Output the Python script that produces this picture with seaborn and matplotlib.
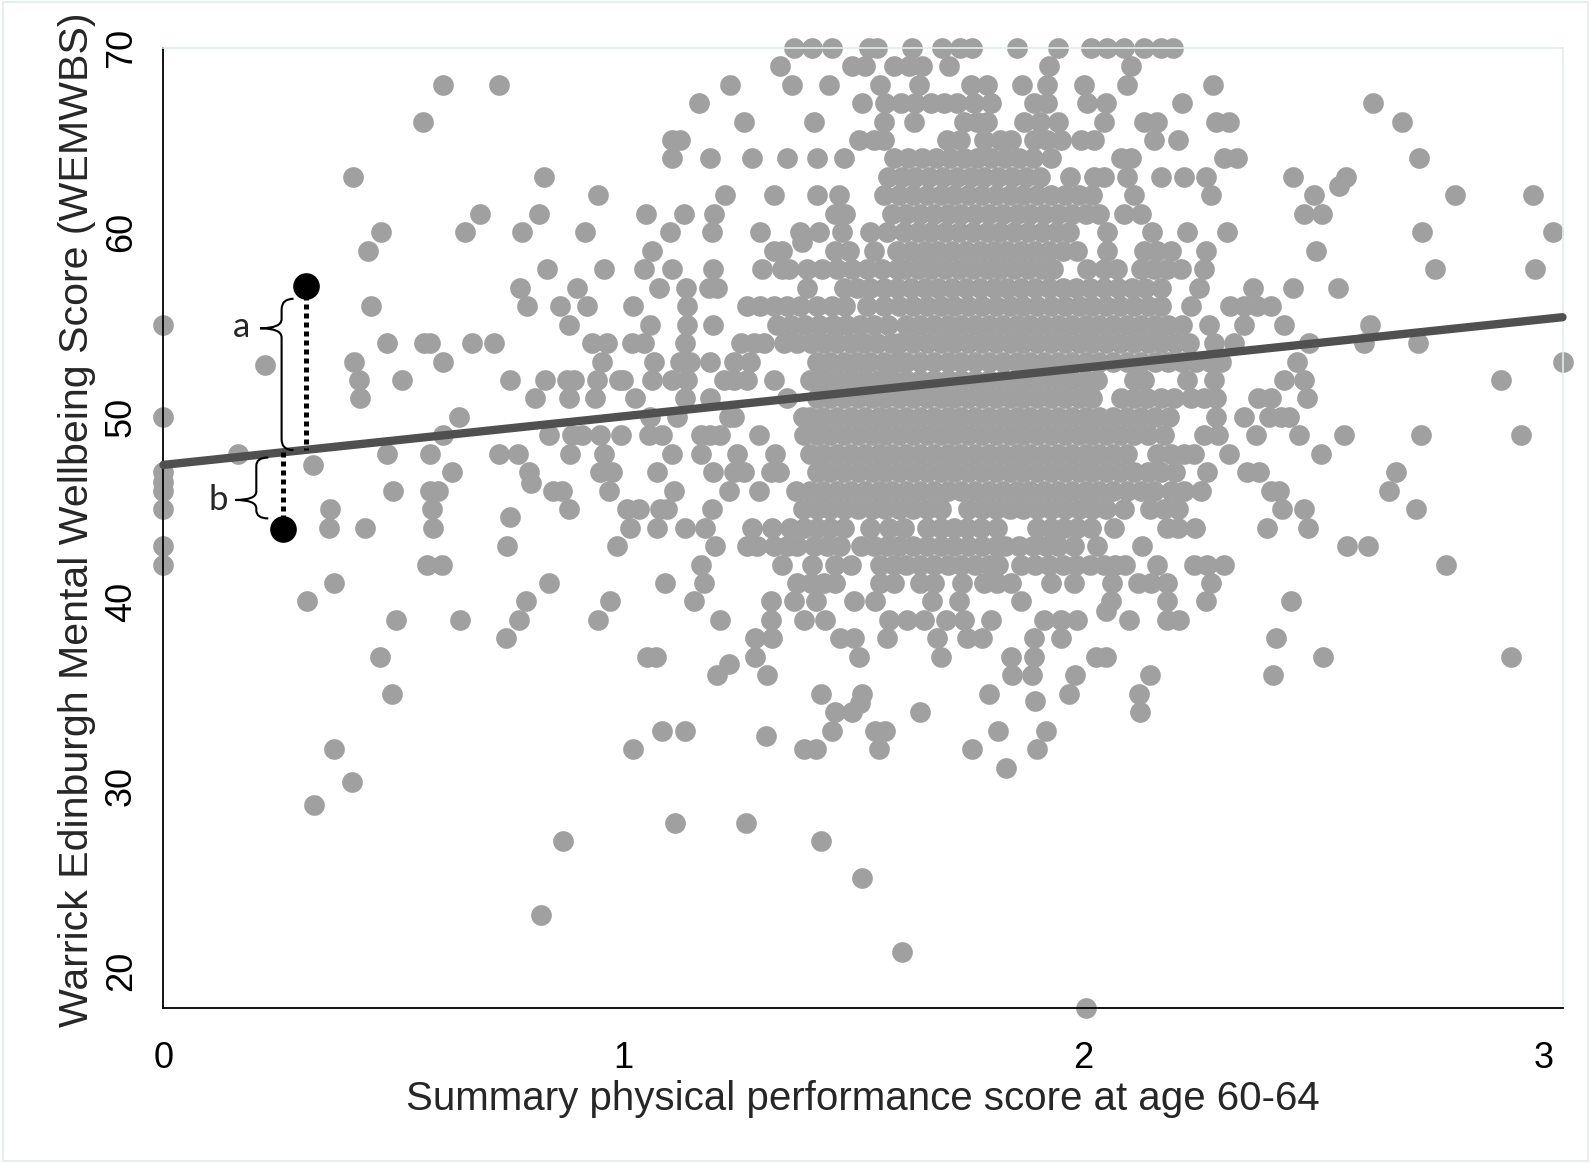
import numpy as np
import pandas as pd
import matplotlib
matplotlib.use("Agg")
import matplotlib.pyplot as plt
from matplotlib.path import Path
from matplotlib.patches import PathPatch, Rectangle
import seaborn as sns

wemwbs_levels = [70, 69, 68, 67, 66, 65, 64, 63, 62, 61, 60, 59, 58, 57, 56, 55, 54, 53,
                 52, 51, 50, 49, 48, 47, 46, 45, 44, 43, 42, 41, 40, 39, 38, 37, 36, 35,
                 34, 33, 32, 31, 29, 28, 27, 25, 23, 21, 18]

perf_by_level = [
    [1.371, 1.41, 1.454, 1.534, 1.552, 1.628, 1.693, 1.733, 1.759, 1.857, 1.944, 2.016, 2.052, 2.089, 2.132, 2.17, 2.195],
    [1.341, 1.497, 1.526, 1.588, 1.621, 1.65, 1.708, 1.925, 2.103],
    [0.609, 0.729, 1.233, 1.367, 1.447, 1.559, 1.643, 1.755, 1.791, 1.867, 1.922, 2.002, 2.096, 2.281],
    [1.164, 1.519, 1.57, 1.603, 1.635, 1.668, 1.697, 1.726, 1.762, 1.799, 1.893, 1.922, 2.009, 2.049, 2.215, 2.629],
    [0.564, 1.262, 1.414, 1.566, 1.632, 1.741, 1.77, 1.791, 1.871, 1.907, 1.944, 2.045, 2.132, 2.161, 2.288, 2.317, 2.694],
    [1.106, 1.124, 1.512, 1.545, 1.566, 1.704, 1.733, 1.784, 1.82, 1.842, 1.893, 1.922, 1.951, 1.994, 2.023, 2.154, 2.205],
    [1.106, 1.189, 1.28, 1.356, 1.421, 1.479, 1.588, 1.62, 1.65, 1.68, 1.71, 1.74, 1.77, 1.80, 1.83, 1.86, 1.89,
     1.929, 2.081, 2.103, 2.306, 2.335, 2.729],
    [0.413, 0.828, 1.575, 1.605, 1.635, 1.665, 1.695, 1.725, 1.755, 1.785, 1.815, 1.845, 1.875, 1.905, 1.972,
     2.023, 2.045, 2.096, 2.168, 2.219, 2.266, 2.455, 2.571],
    [0.946, 1.222, 1.327, 1.421, 1.468, 1.566, 1.60, 1.63, 1.66, 1.69, 1.72, 1.75, 1.78, 1.81, 1.84, 1.87, 1.90,
     1.93, 1.96, 1.99, 2.02, 2.11, 2.277, 2.502, 2.808, 2.977],
    [0.689, 0.816, 1.05, 1.131, 1.197, 1.461, 1.483, 1.585, 1.615, 1.645, 1.675, 1.705, 1.735, 1.765, 1.795,
     1.825, 1.855, 1.885, 1.915, 1.945, 1.975, 2.005, 2.035, 2.089, 2.125, 2.479, 2.52],
    [0.473, 0.656, 0.779, 0.916, 1.102, 1.193, 1.298, 1.385, 1.425, 1.476, 1.537, 1.574, 1.61, 1.64, 1.67, 1.70,
     1.73, 1.76, 1.79, 1.82, 1.85, 1.88, 1.91, 1.94, 1.97, 2.052, 2.15, 2.226, 2.313, 2.737, 3.022],
    [0.444, 1.062, 1.327, 1.345, 1.461, 1.49, 1.545, 1.595, 1.625, 1.655, 1.685, 1.715, 1.745, 1.775, 1.805,
     1.835, 1.865, 1.895, 1.925, 1.955, 1.987, 2.052, 2.132, 2.161, 2.19, 2.266, 2.505],
    [0.833, 0.957, 1.046, 1.106, 1.195, 1.302, 1.345, 1.36, 1.40, 1.432, 1.465, 1.497, 1.53, 1.563, 1.595, 1.61,
     1.64, 1.67, 1.70, 1.73, 1.76, 1.79, 1.82, 1.85, 1.88, 1.91, 1.935, 2.009, 2.045, 2.074, 2.125, 2.154, 2.183,
     2.212, 2.262, 2.765, 2.982],
    [0.776, 0.899, 1.077, 1.136, 1.186, 1.204, 1.40, 1.479, 1.508, 1.537, 1.566, 1.595, 1.625, 1.655, 1.685,
     1.715, 1.745, 1.775, 1.805, 1.835, 1.865, 1.895, 1.925, 1.955, 1.985, 2.015, 2.045, 2.075, 2.105, 2.135,
     2.168, 2.252, 2.37, 2.455, 2.554],
    [0.452, 0.79, 0.863, 0.921, 1.02, 1.138, 1.269, 1.298, 1.327, 1.356, 1.385, 1.421, 1.454, 1.483, 1.53, 1.566,
     1.60, 1.63, 1.66, 1.69, 1.72, 1.75, 1.78, 1.81, 1.84, 1.87, 1.90, 1.93, 1.96, 1.99, 2.02, 2.05, 2.08, 2.11,
     2.14, 2.17, 2.234, 2.32, 2.349, 2.378, 2.408],
    [0.0, 0.881, 1.059, 1.138, 1.196, 1.335, 1.365, 1.395, 1.425, 1.455, 1.485, 1.515, 1.545, 1.575, 1.615, 1.645,
     1.675, 1.705, 1.735, 1.765, 1.795, 1.825, 1.855, 1.885, 1.915, 1.945, 1.975, 2.005, 2.035, 2.065, 2.095,
     2.125, 2.155, 2.185, 2.215, 2.273, 2.35, 2.436, 2.624],
    [0.486, 0.566, 0.58, 0.67, 0.718, 0.932, 0.965, 1.019, 1.044, 1.135, 1.255, 1.284, 1.305, 1.349, 1.378, 1.407,
     1.436, 1.465, 1.494, 1.523, 1.552, 1.581, 1.60, 1.63, 1.66, 1.69, 1.72, 1.75, 1.78, 1.81, 1.84, 1.87, 1.90,
     1.93, 1.96, 1.99, 2.02, 2.05, 2.08, 2.11, 2.14, 2.17, 2.20, 2.23, 2.284, 2.328, 2.491, 2.61, 2.727],
    [0.415, 0.609, 0.954, 1.066, 1.124, 1.146, 1.189, 1.24, 1.276, 1.421, 1.45, 1.479, 1.508, 1.537, 1.566, 1.595,
     1.615, 1.645, 1.675, 1.705, 1.735, 1.765, 1.795, 1.825, 1.855, 1.885, 1.915, 1.945, 1.975, 2.005, 2.035,
     2.065, 2.095, 2.125, 2.155, 2.185, 2.215, 2.245, 2.275, 2.30, 2.464, 3.042],
    [0.426, 0.518, 0.754, 0.83, 0.877, 0.892, 0.943, 0.99, 1.0, 1.062, 1.106, 1.138, 1.218, 1.24, 1.269, 1.327,
     1.405, 1.435, 1.465, 1.495, 1.525, 1.555, 1.585, 1.615, 1.645, 1.675, 1.705, 1.735, 1.765, 1.795, 1.825,
     1.855, 1.885, 1.915, 1.945, 1.975, 2.005, 2.03, 2.11, 2.132, 2.226, 2.284, 2.436, 2.48, 2.908],
    [0.428, 0.809, 0.881, 0.939, 1.026, 1.135, 1.189, 1.356, 1.42, 1.45, 1.48, 1.51, 1.54, 1.57, 1.60, 1.63, 1.66,
     1.69, 1.72, 1.75, 1.78, 1.81, 1.84, 1.87, 1.90, 1.93, 1.96, 1.99, 2.02, 2.081, 2.11, 2.139, 2.168, 2.197,
     2.234, 2.263, 2.288, 2.379, 2.408, 2.487],
    [0.0, 0.642, 1.059, 1.117, 1.229, 1.24, 1.39, 1.405, 1.435, 1.465, 1.495, 1.525, 1.555, 1.585, 1.615, 1.645,
     1.675, 1.705, 1.735, 1.765, 1.795, 1.825, 1.855, 1.885, 1.915, 1.945, 1.975, 2.005, 2.035, 2.065, 2.095,
     2.125, 2.155, 2.186, 2.288, 2.349, 2.404, 2.429, 2.447],
    [0.609, 0.838, 0.888, 0.91, 0.95, 0.994, 1.055, 1.084, 1.168, 1.189, 1.211, 1.294, 1.392, 1.42, 1.45, 1.48,
     1.51, 1.54, 1.57, 1.60, 1.63, 1.66, 1.69, 1.72, 1.75, 1.78, 1.81, 1.84, 1.87, 1.90, 1.93, 1.96, 1.99, 2.02,
     2.05, 2.08, 2.11, 2.14, 2.175, 2.263, 2.292, 2.375, 2.469, 2.567, 2.734, 2.951],
    [0.163, 0.487, 0.58, 0.729, 0.772, 0.885, 0.957, 1.106, 1.168, 1.247, 1.33, 1.405, 1.435, 1.465, 1.495, 1.525,
     1.555, 1.585, 1.615, 1.645, 1.675, 1.705, 1.735, 1.765, 1.795, 1.825, 1.855, 1.885, 1.915, 1.945, 1.975,
     2.005, 2.035, 2.065, 2.095, 2.161, 2.19, 2.22, 2.241, 2.317, 2.516],
    [0.0, 0.627, 0.794, 0.95, 0.975, 1.073, 1.196, 1.24, 1.262, 1.32, 1.338, 1.42, 1.45, 1.48, 1.51, 1.54, 1.57,
     1.60, 1.63, 1.66, 1.69, 1.72, 1.75, 1.78, 1.81, 1.84, 1.87, 1.90, 1.93, 1.96, 1.99, 2.02, 2.05, 2.08, 2.11,
     2.14, 2.17, 2.20, 2.27, 2.357, 2.382, 2.681],
    [0.0, 0.5, 0.58, 0.598, 0.848, 0.867, 0.968, 1.11, 1.229, 1.294, 1.375, 1.405, 1.435, 1.465, 1.495, 1.525,
     1.555, 1.585, 1.615, 1.645, 1.675, 1.705, 1.735, 1.765, 1.795, 1.825, 1.855, 1.885, 1.915, 1.945, 1.975,
     2.005, 2.035, 2.065, 2.095, 2.125, 2.154, 2.19, 2.219, 2.255, 2.408, 2.426, 2.665],
    [0.0, 0.362, 0.584, 0.881, 1.008, 1.033, 1.08, 1.095, 1.193, 1.39, 1.42, 1.45, 1.48, 1.51, 1.54, 1.57, 1.60,
     1.63, 1.66, 1.69, 1.75, 1.78, 1.81, 1.84, 1.87, 1.90, 1.93, 1.96, 1.99, 2.02, 2.05, 2.089, 2.146,
     2.175, 2.205, 2.431, 2.479, 2.724],
    [0.359, 0.439, 0.586, 1.015, 1.073, 1.135, 1.178, 1.28, 1.323, 1.363, 1.392, 1.421, 1.45, 1.479, 1.537, 1.578,
     1.61, 1.661, 1.69, 1.719, 1.748, 1.777, 1.813, 1.9, 1.929, 1.958, 1.987, 2.016, 2.067, 2.183, 2.205, 2.244,
     2.399, 2.489],
    [0.0, 0.748, 0.986, 1.2, 1.269, 1.29, 1.327, 1.356, 1.378, 1.414, 1.443, 1.472, 1.516, 1.545, 1.574, 1.60,
     1.63, 1.66, 1.69, 1.72, 1.75, 1.78, 1.81, 1.83, 1.86, 1.89, 1.92, 1.945, 1.98, 2.03, 2.128, 2.574, 2.618],
    [0.0, 0.573, 0.605, 1.168, 1.345, 1.41, 1.461, 1.494, 1.559, 1.588, 1.615, 1.645, 1.675, 1.705, 1.735, 1.765,
     1.795, 1.815, 1.865, 1.895, 1.925, 1.955, 1.985, 2.015, 2.045, 2.07, 2.09, 2.161, 2.241, 2.27, 2.306, 2.788],
    [0.372, 0.838, 1.091, 1.175, 1.378, 1.407, 1.436, 1.461, 1.559, 1.588, 1.646, 1.675, 1.737, 1.784, 1.813,
     1.842, 1.929, 1.98, 2.063, 2.118, 2.147, 2.183, 2.277],
    [0.312, 0.788, 0.972, 1.153, 1.32, 1.37, 1.418, 1.501, 1.548, 1.672, 1.73, 1.864, 2.06, 2.183, 2.266, 2.452],
    [0.506, 0.645, 0.774, 0.946, 1.211, 1.32, 1.392, 1.439, 1.578, 1.617, 1.654, 1.701, 1.741, 1.799, 1.915,
     1.951, 1.987, 2.1, 2.183, 2.208],
    [0.745, 1.287, 1.323, 1.472, 1.501, 1.574, 1.683, 1.748, 1.78, 1.893, 1.951, 2.418],
    [0.47, 1.051, 1.07, 1.287, 1.512, 1.69, 1.842, 1.893, 2.027, 2.049, 2.522, 2.931],
    [1.204, 1.313, 1.846, 1.889, 1.983, 2.146, 2.413],
    [0.498, 1.429, 1.519, 1.795, 1.969, 2.121],
    [1.461, 1.497, 1.644, 2.123],
    [1.083, 1.133, 1.454, 1.548, 1.57, 1.815, 1.92],
    [0.370, 1.02, 1.392, 1.418, 1.555, 1.759, 1.9],
    [1.831],
    [0.328],
    [1.112, 1.267],
    [0.868, 1.429],
    [1.518],
    [0.821],
    [1.605],
    [2.005],
]

# points that sit between integer levels
extra_perf = [0.221, 0.326, 0.0, 0.8, 0.754, 1.389, 2.556, 2.049, 1.229, 1.515, 1.896, 1.311, 0.411]
extra_wemwbs = [52.8, 47.4, 46.5, 46.4, 44.6, 59.5, 62.5, 39.5, 36.6, 34.5, 34.6, 32.7, 30.2]

# fitted regression line
fit_intercept = 47.4
fit_slope = 2.63

# the two highlighted example participants
example_perf = [0.31, 0.259]
example_wemwbs = [57.1, 43.95]

perf = [x for xs in perf_by_level for x in xs] + extra_perf
wemwbs = [lvl for lvl, xs in zip(wemwbs_levels, perf_by_level) for _ in xs] + extra_wemwbs
df = pd.DataFrame({'perf': perf, 'wemwbs': wemwbs})

sns.set_style('white')
plt.rcParams['font.family'] = ['Liberation Sans', 'DejaVu Sans']

fig = plt.figure(figsize=(15.91, 11.63), dpi=100)
ax = fig.add_axes([0.1027, 0.1336, 0.8794, 0.8254])

sns.scatterplot(data=df, x='perf', y='wemwbs', s=222, color='#a0a0a0', linewidth=0,
                clip_on=False, zorder=2, ax=ax)

ax.set_xlim(0, 3.042)
ax.set_ylim(18, 70)

# regression line across the full x range
line_x = np.array(ax.get_xlim())
ax.plot(line_x, fit_intercept + fit_slope * line_x, color='#505050', lw=6,
        solid_capstyle='round', zorder=3, clip_on=False)

# residuals of the two example points
for px, py in zip(example_perf, example_wemwbs):
    ax.plot([px, px], [py, fit_intercept + fit_slope * px], color='black', lw=3.6,
            linestyle=(0, (1, 0.8)), zorder=4)
ax.scatter(example_perf, example_wemwbs, s=330, color='black', zorder=5, clip_on=False)


def brace(x, x_hook, x_tip, y_top, y_tip, y_bot, d_end, d_tip):
    verts = [(x_hook, y_top), (x, y_top), (x, y_top - d_end),
             (x, y_tip + d_tip), (x, y_tip), (x_tip, y_tip),
             (x, y_tip), (x, y_tip - d_tip),
             (x, y_bot + d_end), (x, y_bot), (x_hook, y_bot)]
    codes = [Path.MOVETO, Path.CURVE3, Path.CURVE3,
             Path.LINETO, Path.CURVE3, Path.CURVE3,
             Path.CURVE3, Path.CURVE3,
             Path.LINETO, Path.CURVE3, Path.CURVE3]
    ax.add_patch(PathPatch(Path(verts, codes), fill=False, ec='black', lw=1.5, zorder=4))


brace(0.257, 0.283, 0.21, 56.4, 54.8, 48.2, 0.6, 0.5)
brace(0.202, 0.228, 0.156, 47.8, 45.5, 44.5, 0.45, 0.45)
ax.text(0.17, 54.35, 'a', fontsize=25, family=['Lato', 'DejaVu Sans'], ha='center', va='baseline')
ax.text(0.12, 44.97, 'b', fontsize=25, family=['Lato', 'DejaVu Sans'], ha='center', va='baseline')

ax.set_xticks([0, 1, 2, 3])
ax.set_yticks([20, 30, 40, 50, 60, 70])
ax.tick_params(axis='both', direction='out', length=10.8, width=1.3, colors='black',
               labelsize=26)
ax.tick_params(axis='x', pad=13)
ax.tick_params(axis='y', labelrotation=90, pad=7)
for lbl in ax.get_yticklabels():
    lbl.set_va('center')

for side in ['left', 'bottom']:
    ax.spines[side].set_color('black')
    ax.spines[side].set_linewidth(1.3)
for side in ['top', 'right']:
    ax.spines[side].set_color('#e3ecee')
    ax.spines[side].set_linewidth(1.2)

ax.set_xlabel('Summary physical performance score at age 60-64', fontsize=29, labelpad=3)
ax.set_ylabel('Warrick Edinburgh Mental Wellbeing Score (WEMWBS)', fontsize=29.6)
ax.yaxis.set_label_coords(-0.048, 0.508)

fig.patches.append(Rectangle((0.002, 0.002), 0.996, 0.996, transform=fig.transFigure,
                             fill=False, ec='#e6eeee', lw=1.5))

fig.savefig('out.png', dpi=100)
